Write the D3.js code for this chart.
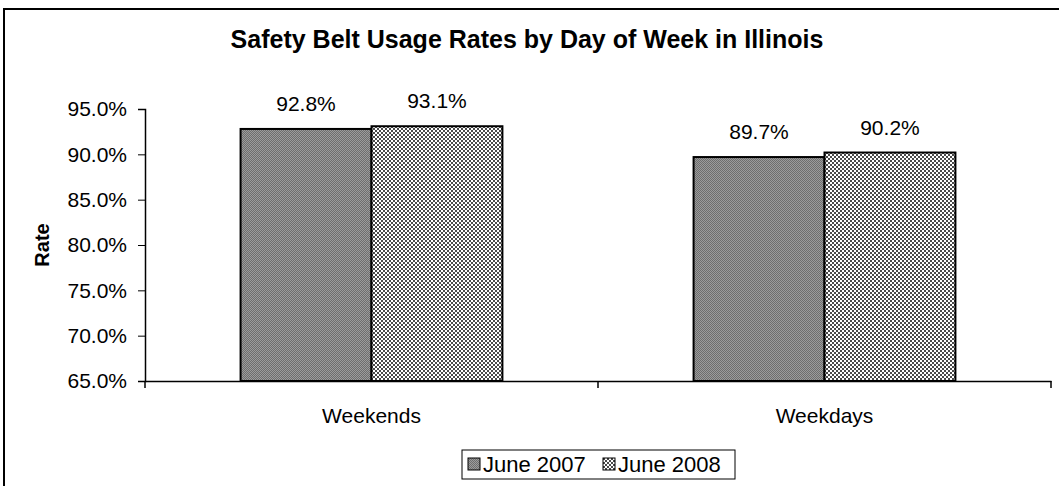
<!DOCTYPE html>
<html>
<head>
<meta charset="utf-8">
<script src="https://cdn.jsdelivr.net/npm/d3@7"></script>
<style>
  body { margin: 0; background: #fff; }
  text { font-family: "Liberation Sans", Arial, sans-serif; }
</style>
</head>
<body>
<div id="chart"></div>
<script>
// chart values
var categories = ["Weekends", "Weekdays"];
var seriesNames = ["June 2007", "June 2008"];
var june2007 = [0.928, 0.897];
var june2008 = [0.931, 0.902];
var yTicks = [0.65, 0.70, 0.75, 0.80, 0.85, 0.90, 0.95];

var width = 1059;
var height = 486;
var fontSize = "21px";

var svg = d3.select("#chart")
  .append("svg")
    .attr("width", width)
    .attr("height", height);

// fill patterns like the old spreadsheet look
var defs = svg.append("defs");
var p1 = defs.append("pattern")
  .attr("id", "pat2007").attr("patternUnits", "userSpaceOnUse")
  .attr("width", 2).attr("height", 2);
p1.append("rect").attr("width", 2).attr("height", 2).attr("fill", "#9c9c9c");
p1.append("rect").attr("width", 1).attr("height", 1).attr("fill", "#6e6e6e");
p1.append("rect").attr("x", 1).attr("y", 1).attr("width", 1).attr("height", 1).attr("fill", "#6e6e6e");

var p2 = defs.append("pattern")
  .attr("id", "pat2008").attr("patternUnits", "userSpaceOnUse")
  .attr("width", 4).attr("height", 4);
p2.append("rect").attr("width", 4).attr("height", 4).attr("fill", "#ffffff");
p2.append("rect").attr("width", 2).attr("height", 2).attr("fill", "#4a4a4a");
p2.append("rect").attr("x", 2).attr("y", 2).attr("width", 2).attr("height", 2).attr("fill", "#4a4a4a");

var fills = ["url(#pat2007)", "url(#pat2008)"];

// outer border (runs off the right and bottom edges)
svg.append("rect")
  .attr("x", 4).attr("y", 9)
  .attr("width", 1080).attr("height", 500)
  .attr("fill", "none")
  .attr("stroke", "#000")
  .attr("stroke-width", 2);

var plot = { left: 145, right: 1051, top: 109, bottom: 381 };

var x = d3.scaleBand()
  .domain(categories)
  .range([plot.left, plot.right])
  .padding(0);

var xInner = d3.scaleBand()
  .domain(seriesNames)
  .range([0, x.bandwidth()])
  .paddingOuter(0.73)
  .paddingInner(0);

var y = d3.scaleLinear()
  .domain([0.65, 0.95])
  .range([plot.bottom, plot.top]);

// title
svg.append("text")
  .attr("x", 527).attr("y", 48)
  .attr("text-anchor", "middle")
  .style("font-size", "25px")
  .style("font-weight", "bold")
  .text("Safety Belt Usage Rates by Day of Week in Illinois");

// y axis
var yAxis = d3.axisLeft(y)
  .tickValues(yTicks)
  .tickFormat(d3.format(".1%"))
  .tickSize(7)
  .tickPadding(11);

var gy = svg.append("g")
  .attr("transform", "translate(" + plot.left + ",0)")
  .call(yAxis);
gy.select(".domain").attr("stroke", "#000").attr("stroke-width", 1.5);
gy.selectAll(".tick line").attr("stroke", "#000");
gy.selectAll(".tick text")
  .style("font-size", fontSize)
  .style("font-family", "Liberation Sans, Arial, sans-serif")
  .attr("fill", "#000");

svg.append("text")
  .attr("transform", "translate(49,245) rotate(-90)")
  .attr("text-anchor", "middle")
  .style("font-size", "20px")
  .style("font-weight", "bold")
  .text("Rate");

// bars
var rows = categories.map(function(c, i) {
  return { cat: c, values: [june2007[i], june2008[i]] };
});

var groups = svg.selectAll("g.group")
  .data(rows)
  .enter()
  .append("g")
    .attr("class", "group")
    .attr("transform", function(d) { return "translate(" + x(d.cat) + ",0)"; });

groups.selectAll("rect")
  .data(function(d) { return d.values.map(function(v, j) { return { s: seriesNames[j], v: v, j: j }; }); })
  .enter()
  .append("rect")
    .attr("x", function(d) { return xInner(d.s); })
    .attr("y", function(d) { return y(d.v); })
    .attr("width", xInner.bandwidth())
    .attr("height", function(d) { return plot.bottom - y(d.v); })
    .attr("fill", function(d) { return fills[d.j]; })
    .attr("stroke", "#000")
    .attr("stroke-width", 2);

groups.selectAll("text.val")
  .data(function(d) { return d.values.map(function(v, j) { return { s: seriesNames[j], v: v }; }); })
  .enter()
  .append("text")
    .attr("class", "val")
    .attr("x", function(d) { return xInner(d.s) + xInner.bandwidth() / 2; })
    .attr("y", function(d) { return y(d.v) - 18; })
    .attr("text-anchor", "middle")
    .style("font-size", fontSize)
    .text(function(d) { return d3.format(".1%")(d.v); });

// x axis
var xAxis = d3.axisBottom(x).tickSize(0).tickPadding(27);
var gx = svg.append("g")
  .attr("transform", "translate(0," + plot.bottom + ")")
  .call(xAxis);
gx.select(".domain").attr("stroke", "#000").attr("stroke-width", 1.5);
gx.selectAll(".tick text")
  .style("font-size", fontSize)
  .style("font-family", "Liberation Sans, Arial, sans-serif")
  .attr("fill", "#000");

// category boundary ticks
var bounds = categories.map(function(c) { return x(c); }).concat([plot.right]);
gx.selectAll("line.bound")
  .data(bounds)
  .enter()
  .append("line")
    .attr("class", "bound")
    .attr("x1", function(d) { return d; })
    .attr("x2", function(d) { return d; })
    .attr("y1", 0).attr("y2", 7)
    .attr("stroke", "#000")
    .attr("stroke-width", 1.5);

// legend
var legend = svg.append("g").attr("transform", "translate(462,450)");
legend.append("rect")
  .attr("width", 273).attr("height", 29)
  .attr("fill", "#fff")
  .attr("stroke", "#000")
  .attr("stroke-width", 1);

var items = legend.selectAll("g.item")
  .data(seriesNames)
  .enter()
  .append("g")
    .attr("class", "item")
    .attr("transform", function(d, i) { return "translate(" + (6 + i * 135) + ",0)"; });

items.append("rect")
  .attr("x", 0).attr("y", 8)
  .attr("width", 12).attr("height", 12)
  .attr("fill", function(d, i) { return fills[i]; })
  .attr("stroke", "#000")
  .attr("stroke-width", 1);

items.append("text")
  .attr("x", 15).attr("y", 22)
  .style("font-size", "22px")
  .text(function(d) { return d; });
</script>
</body>
</html>
